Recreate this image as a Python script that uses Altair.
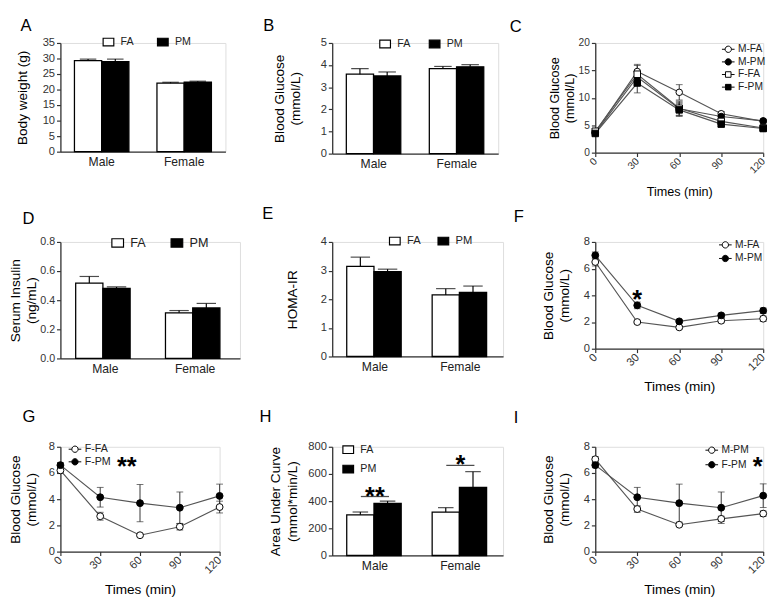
import altair as alt
import pandas as pd

FONT = "Liberation Sans"

sexes = ["Male", "Female"]
groups = ["FA", "PM"]
times = [0, 30, 60, 90, 120]

# A body weight
bw_fa = [29.3, 22.05]
bw_fa_err = [0.5, 0.3]
bw_pm = [29.0, 22.4]
bw_pm_err = [0.8, 0.3]
# B fasting glucose
glu_fa = [3.59, 3.84]
glu_fa_err = [0.25, 0.10]
glu_pm = [3.51, 3.92]
glu_pm_err = [0.18, 0.10]
# D serum insulin
ins_fa = [0.518, 0.313]
ins_fa_err = [0.045, 0.016]
ins_pm = [0.481, 0.347]
ins_pm_err = [0.010, 0.031]
# E HOMA-IR
homa_fa = [3.15, 2.15]
homa_fa_err = [0.32, 0.22]
homa_pm = [2.96, 2.24]
homa_pm_err = [0.09, 0.22]
# H AUC
auc_fa = [299, 320]
auc_fa_err = [21, 32]
auc_pm = [384, 501]
auc_pm_err = [16, 116]
auc_sig_y = [434, 663]
auc_star_y = [475, 708]
auc_star = ["**", "*"]

# C GTT
c_names = ["M-FA", "M-PM", "F-FA", "F-PM"]
c_mfa = [3.7, 14.8, 11.0, 7.1, 5.7]
c_mfa_err = [0.2, 1.3, 1.4, 0.4, 0.3]
c_mpm = [3.6, 13.8, 8.0, 6.6, 5.8]
c_mpm_err = [0.2, 1.2, 1.2, 0.4, 0.3]
c_ffa = [3.9, 14.3, 8.1, 5.7, 4.5]
c_ffa_err = [0.2, 1.6, 1.3, 0.5, 0.3]
c_fpm = [3.5, 12.7, 7.8, 5.2, 4.4]
c_fpm_err = [0.3, 1.8, 1.2, 0.4, 0.3]

# F ITT male
f_names = ["M-FA", "M-PM"]
f_mfa = [6.5, 2.0, 1.6, 2.1, 2.25]
f_mfa_err = [0.3, 0.1, 0.1, 0.15, 0.2]
f_mpm = [7.0, 3.25, 2.05, 2.5, 2.85]
f_mpm_err = [0.25, 0.25, 0.1, 0.15, 0.2]
f_star_t = [30]
f_star_v = [4.1]
f_star = ["*"]

# G ITT female
g_names = ["F-FA", "F-PM"]
g_ffa = [6.2, 2.7, 1.25, 1.9, 3.4]
g_ffa_err = [0.2, 0.3, 0.1, 0.25, 0.45]
g_fpm = [6.6, 4.15, 3.7, 3.35, 4.25]
g_fpm_err = [0.2, 0.75, 1.42, 1.2, 0.9]
g_star_t = [50]
g_star_v = [6.95]
g_star = ["**"]

# I ITT PM
i_names = ["M-PM", "F-PM"]
i_mpm = [7.05, 3.25, 2.05, 2.5, 2.9]
i_mpm_err = [0.2, 0.25, 0.1, 0.2, 0.2]
i_fpm = [6.6, 4.15, 3.7, 3.35, 4.27]
i_fpm_err = [0.2, 0.75, 1.45, 1.2, 0.9]
i_star_t = [116]
i_star_v = [6.9]
i_star = ["*"]

RECT = "M-1,-0.72H1V0.72H-1Z"
CIRC_LEG = "M-1,0H-0.5M0.5,0H1M0.5,0A0.5,0.5,0,1,1,-0.5,0A0.5,0.5,0,1,1,0.5,0Z"
SQ_LEG = "M-1,0H-0.44M0.44,0H1M-0.44,-0.44H0.44V0.44H-0.44Z"


def letter_title(letter, dx, offset):
    return alt.TitleParams(text=letter, anchor="start", frame="group", orient="top",
                           dx=dx, offset=offset, font=FONT, fontSize=17,
                           fontWeight="normal", color="black")


def y_axis(title, values, fmt=None, title_size=14, label_size=11.5, title_pad=4):
    kw = dict(title=title, values=values, tickSize=4, tickWidth=1.2, tickColor="#333",
              domainColor="#333", domainWidth=1.3, labelFont=FONT, labelFontSize=label_size,
              labelColor="#333", labelPadding=2, labelOverlap=False, labelFlush=False,
              titleFont=FONT, titleFontSize=title_size, titleFontWeight="normal",
              titleColor="black", titlePadding=title_pad, titleLineHeight=title_size * 1.2,
              grid=False)
    if fmt:
        kw["format"] = fmt
    return alt.Axis(**kw)


def bar_panel(letter, fa, fa_err, pm, pm_err, ymax, yvals, ytitle, w, h, leg, tdx, toff,
              fmt=None, ylab=11.5, ytitle_size=14, ytp=4, cap=18, sig=None):
    df = pd.DataFrame({"sex": sexes + sexes, "grp": ["FA", "FA", "PM", "PM"],
                       "m": fa + pm, "e": fa_err + pm_err})
    df["top"] = df["m"] + df["e"]
    xax = alt.Axis(title=None, labelAngle=0, ticks=False, domainColor="#333", domainWidth=1.3,
                   labelFont=FONT, labelFontSize=12.5, labelColor="#222", labelPadding=4)
    xs = alt.X("sex:N", sort=sexes, scale=alt.Scale(paddingInner=0.34, paddingOuter=0.17), axis=xax)
    xo = alt.XOffset("grp:N", sort=groups, scale=alt.Scale(paddingInner=0, paddingOuter=0))
    ysc = alt.Scale(domain=[0, ymax], nice=False)
    yax = y_axis(ytitle, yvals, fmt, ytitle_size, ylab, ytp)

    def Y(f):
        return alt.Y(f, type="quantitative", scale=ysc, axis=yax)

    base = alt.Chart(df)
    legend = alt.Legend(orient="none", title=None, symbolType=RECT, symbolStrokeColor="black",
                        symbolStrokeWidth=1.2, labelFont=FONT, labelColor="#222", padding=0,
                        labelOffset=6, **leg)
    bars = base.mark_bar(stroke="black", strokeWidth=1.3).encode(
        x=xs, xOffset=xo, y=Y("m"),
        fill=alt.Fill("grp:N", scale=alt.Scale(domain=groups, range=["white", "black"]), legend=legend))
    rule = base.mark_rule(color="black", strokeWidth=1.2).encode(x=xs, xOffset=xo, y=Y("m"), y2="top:Q")
    capm = base.mark_tick(color="black", thickness=1.2, size=cap).encode(x=xs, xOffset=xo, y=Y("top"))
    layers = [bars, rule, capm]
    if sig is not None:
        sdf = pd.DataFrame({"sex": sexes, "ly": sig[0], "sy": sig[1], "txt": sig[2]})
        sb = alt.Chart(sdf)
        layers.append(sb.mark_tick(color="black", thickness=1.3, size=sig[3]).encode(x=xs, y=Y("ly")))
        layers.append(sb.mark_text(font=FONT, fontSize=26, fontWeight="bold", baseline="middle",
                                   dy=6.5, color="black").encode(x=xs, y=Y("sy"), text="txt:N"))
    return alt.layer(*layers).properties(width=w, height=h, title=letter_title(letter, tdx, toff))


def line_panel(letter, names, vals, errs, fills, pshapes, lshapes, ymax, yvals, w, h, leg,
               tdx, toff, star=None, ts=14, lab=11.5, ytp=4, xtp=8, ms=50):
    rows = []
    for n, vs, es in zip(names, vals, errs):
        for t, v, e in zip(times, vs, es):
            rows.append(dict(t=t, g=n, lg=n, v=v, lo=round(v - e, 3), hi=round(v + e, 3)))
    df = pd.DataFrame(rows)
    xsc = alt.Scale(domain=[0, 120], nice=False, zero=False)
    ysc = alt.Scale(domain=[0, ymax], nice=False)
    xax = alt.Axis(title="Times (min)", values=times, labelAngle=315, labelAlign="right",
                   labelBaseline="middle", labelFlush=False, labelOverlap=False, tickSize=4,
                   tickWidth=1.2, tickColor="#333", domainColor="#333", domainWidth=1.3,
                   labelFont=FONT, labelFontSize=lab, labelColor="#333", labelPadding=3,
                   titleFont=FONT, titleFontSize=ts, titleFontWeight="normal", titleColor="black",
                   titlePadding=xtp, grid=False)
    yax = y_axis(["Blood Glucose", "(mmol/L)"], yvals, None, ts, lab, ytp)

    def X(f):
        return alt.X(f, type="quantitative", scale=xsc, axis=xax)

    def Y(f):
        return alt.Y(f, type="quantitative", scale=ysc, axis=yax)

    base = alt.Chart(df)
    line = base.mark_line(color="#555", strokeWidth=1.2).encode(x=X("t"), y=Y("v"), detail="g:N")
    rule = base.mark_rule(color="#333", strokeWidth=1).encode(x=X("t"), y=Y("lo"), y2="hi:Q")
    caph = base.mark_tick(orient="horizontal", color="#333", thickness=1, size=7).encode(x=X("t"), y=Y("hi"))
    capl = base.mark_tick(orient="horizontal", color="#333", thickness=1, size=7).encode(x=X("t"), y=Y("lo"))
    pts = base.mark_point(filled=True, size=ms, stroke="black", strokeWidth=1, opacity=1).encode(
        x=X("t"), y=Y("v"),
        fill=alt.Fill("g:N", scale=alt.Scale(domain=names, range=fills), legend=None),
        shape=alt.Shape("g:N", scale=alt.Scale(domain=names, range=pshapes), legend=None))
    legend = alt.Legend(orient="none", title=None, direction="vertical",
                        symbolStrokeWidth=1, symbolOpacity=1, labelFont=FONT, labelColor="#222",
                        padding=0, labelOffset=3, **leg)
    lg = base.transform_filter("datum.t < 0").mark_point(filled=True, strokeWidth=1).encode(
        x=X("t"), y=Y("v"),
        fill=alt.Fill("lg:N", scale=alt.Scale(domain=names, range=fills), legend=legend),
        shape=alt.Shape("lg:N", scale=alt.Scale(domain=names, range=lshapes), legend=legend),
        stroke=alt.Stroke("lg:N", scale=alt.Scale(domain=names, range=["black"] * len(names)),
                          legend=legend))
    layers = [line, rule, caph, capl, pts, lg]
    if star is not None:
        sdf = pd.DataFrame({"t": star[0], "v": star[1], "txt": star[2]})
        layers.append(alt.Chart(sdf).mark_text(font=FONT, fontSize=26, fontWeight="bold",
                                               baseline="middle", dy=6.5, color="black").encode(
            x=X("t"), y=Y("v"), text="txt:N"))
    return alt.layer(*layers).resolve_scale(
        fill="independent", shape="independent", stroke="independent").properties(
        width=w, height=h, title=letter_title(letter, tdx, toff))


A = bar_panel("A", bw_fa, bw_fa_err, bw_pm, bw_pm_err, 35, [0, 5, 10, 15, 20, 25, 30, 35],
              "Body weight (g)", 170, 112,
              dict(legendX=43, legendY=-7.5, direction="horizontal", columnPadding=21,
                   labelFontSize=11, symbolSize=121), -41, 0.7, cap=17, ytp=13)
B = bar_panel("B", glu_fa, glu_fa_err, glu_pm, glu_pm_err, 5, [0, 1, 2, 3, 4, 5],
              ["Blood Glucose", "(mmol/L)"], 171, 114,
              dict(legendX=48, legendY=-5.5, direction="horizontal", columnPadding=16,
                   labelFontSize=11, symbolSize=121), -71, 2.2, cap=18, ytp=18)
C = line_panel("C", c_names, [c_mfa, c_mpm, c_ffa, c_fpm],
               [c_mfa_err, c_mpm_err, c_ffa_err, c_fpm_err],
               ["white", "black", "white", "black"], ["circle", "circle", "square", "square"],
               [CIRC_LEG, CIRC_LEG, SQ_LEG, SQ_LEG], 20, [0, 5, 10, 15, 20], 173, 113,
               dict(legendX=130, legendY=-0.5, rowPadding=0, labelFontSize=10.5, symbolSize=169),
               -88, 2.2, ts=13, lab=10.5, ms=45, xtp=11, ytp=2)
D = bar_panel("D", ins_fa, ins_fa_err, ins_pm, ins_pm_err, 0.8, [0, 0.2, 0.4, 0.6, 0.8],
              ["Serum Insulin", "(ng/mL)"], 185, 120,
              dict(legendX=52, legendY=-6, direction="horizontal", columnPadding=23,
                   labelFontSize=13, symbolSize=144), -39, 9, fmt=".1f", ylab=11, cap=20, ytp=1)
E = bar_panel("E", homa_fa, homa_fa_err, homa_pm, homa_pm_err, 4, [0, 1, 2, 3, 4],
              "HOMA-IR", 176, 118,
              dict(legendX=58, legendY=-7.5, direction="horizontal", columnPadding=14,
                   labelFontSize=11.5, symbolSize=121), -72, 11.7, cap=20, ytp=21)
F = line_panel("F", f_names, [f_mfa, f_mpm], [f_mfa_err, f_mpm_err], ["white", "black"],
               ["circle", "circle"], [CIRC_LEG, CIRC_LEG], 8, [0, 2, 4, 6, 8], 173, 110,
               dict(legendX=127, legendY=-4, rowPadding=1, labelFontSize=10.5, symbolSize=169),
               -84, 11, star=(f_star_t, f_star_v, f_star), ytp=12)
G = line_panel("G", g_names, [g_ffa, g_fpm], [g_ffa_err, g_fpm_err], ["white", "black"],
               ["circle", "circle"], [CIRC_LEG, CIRC_LEG], 8, [0, 2, 4, 6, 8], 164, 108,
               dict(legendX=8, legendY=-4.5, rowPadding=0, labelFontSize=11, symbolSize=169),
               -39, 16, star=(g_star_t, g_star_v, g_star), ytp=10)
H = bar_panel("H", auc_fa, auc_fa_err, auc_pm, auc_pm_err, 800, [0, 200, 400, 600, 800],
              ["Area Under Curve", "(mmol*min/L)"], 176, 112,
              dict(legendX=10, legendY=-3.5, direction="vertical", rowPadding=7,
                   labelFontSize=11, symbolSize=121), -75, 16, cap=16, ytp=9,
              sig=(auc_sig_y, auc_star_y, auc_star, 29))
I = line_panel("I", i_names, [i_mpm, i_fpm], [i_mpm_err, i_fpm_err], ["white", "black"],
               ["circle", "circle"], [CIRC_LEG, CIRC_LEG], 8, [0, 2, 4, 6, 8], 173, 108,
               dict(legendX=113, legendY=-3.5, rowPadding=2, labelFontSize=10.5, symbolSize=169),
               -84, 14, star=(i_star_t, i_star_v, i_star), ytp=12)

chart = alt.concat(A, B, C, D, E, F, G, H, I, columns=3,
                   spacing={"row": 91, "column": 95}, bounds="flush", align="each").resolve_scale(
    fill="independent", shape="independent", stroke="independent").properties(padding=0).configure_view(
    stroke=None).configure(font=FONT)

chart.save("out.html", embed_options={"renderer": "svg", "actions": False})
